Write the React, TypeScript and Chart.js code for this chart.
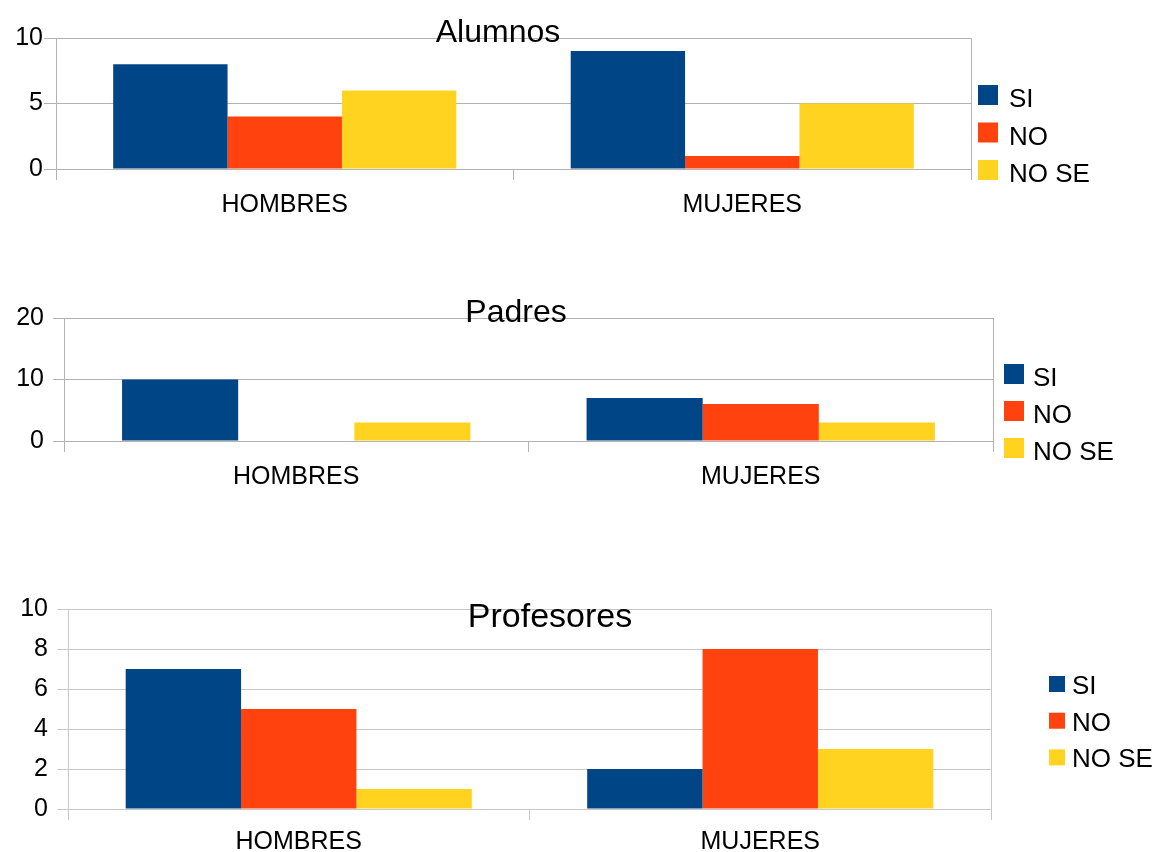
import React, { useEffect, useRef } from "react";
import { Chart, registerables } from "chart.js";

Chart.register(...registerables);

// ---------- data ----------
const categories = ["HOMBRES", "MUJERES"];
const seriesNames = ["SI", "NO", "NO SE"];
const seriesColors = ["#004586", "#ff420e", "#ffd320"];

const alumnosSI = [8, 9];
const alumnosNO = [4, 1];
const alumnosNOSE = [6, 5];

const padresSI = [10, 7];
const padresNO = [0, 6];
const padresNOSE = [3, 3];

const profesoresSI = [7, 2];
const profesoresNO = [5, 8];
const profesoresNOSE = [1, 3];

const alumnosTicks = [0, 5, 10];
const padresTicks = [0, 10, 20];
const profesoresTicks = [0, 2, 4, 6, 8, 10];

const titles = ["Alumnos", "Padres", "Profesores"];

// ---------- layout (positions / styles) ----------
const W = 1157;
const FONT = '"Liberation Sans", Arial, sans-serif';

type Panel = {
  title: string;
  series: number[][];
  ticks: number[];
  top: number;
  height: number;
  plotTop: number;
  plotBottom: number;
  plotLeft: number;
  plotRight: number;
  yTickLength: number;
  yPadding: number;
  xPadding: number;
  titleX: number;
  titleY: number;
  titleSize: number;
  legendX: number;
  legendTop: number;
  legendStep: number;
  legendBox: number;
  legendTextX: number;
  legendBaseline: number;
  gridColor: string;
};

const panels: Panel[] = [
  {
    title: titles[0],
    series: [alumnosSI, alumnosNO, alumnosNOSE],
    ticks: alumnosTicks,
    top: 0,
    height: 250,
    plotTop: 38,
    plotBottom: 169,
    plotLeft: 56,
    plotRight: 971,
    yTickLength: 12,
    yPadding: 1,
    xPadding: 10,
    titleX: 498,
    titleY: 42,
    titleSize: 32,
    legendX: 978,
    legendTop: 85,
    legendStep: 37.5,
    legendBox: 20,
    legendTextX: 1009,
    legendBaseline: 22,
    gridColor: "#b3b3b3",
  },
  {
    title: titles[1],
    series: [padresSI, padresNO, padresNOSE],
    ticks: padresTicks,
    top: 280,
    height: 220,
    plotTop: 318,
    plotBottom: 441,
    plotLeft: 64,
    plotRight: 993,
    yTickLength: 11,
    yPadding: 9,
    xPadding: 10,
    titleX: 516,
    titleY: 322,
    titleSize: 32,
    legendX: 1004,
    legendTop: 364,
    legendStep: 37,
    legendBox: 20,
    legendTextX: 1033,
    legendBaseline: 22,
    gridColor: "#b3b3b3",
  },
  {
    title: titles[2],
    series: [profesoresSI, profesoresNO, profesoresNOSE],
    ticks: profesoresTicks,
    top: 580,
    height: 272,
    plotTop: 609,
    plotBottom: 809,
    plotLeft: 68,
    plotRight: 991,
    yTickLength: 11,
    yPadding: 9,
    xPadding: 7,
    titleX: 550,
    titleY: 627,
    titleSize: 34,
    legendX: 1049,
    legendTop: 676,
    legendStep: 36.7,
    legendBox: 16,
    legendTextX: 1072,
    legendBaseline: 18,
    gridColor: "#c8c8c8",
  },
];

const overlayPlugin = {
  id: "overlay",
  afterDraw(chart: any, _args: any, opts: any) {
    const p: Panel = opts.panel;
    const ctx = chart.ctx as CanvasRenderingContext2D;
    ctx.save();
    ctx.fillStyle = "#000";
    ctx.font = `${p.titleSize}px ${FONT}`;
    ctx.textAlign = "center";
    ctx.textBaseline = "alphabetic";
    ctx.fillText(p.title, p.titleX, p.titleY - p.top);

    ctx.font = `26px ${FONT}`;
    ctx.textAlign = "left";
    chart.data.datasets.forEach((ds: any, i: number) => {
      const y = p.legendTop + i * p.legendStep - p.top;
      ctx.fillStyle = ds.backgroundColor;
      ctx.fillRect(p.legendX, y, p.legendBox, p.legendBox);
      ctx.fillStyle = "#000";
      ctx.fillText(ds.label, p.legendTextX, y + p.legendBaseline);
    });
    ctx.restore();
  },
};

function PanelChart({ p }: { p: Panel }) {
  const ref = useRef<HTMLCanvasElement>(null);
  useEffect(() => {
    if (!ref.current) return;
    const step = p.ticks[1] - p.ticks[0];
    const chart = new Chart(ref.current, {
      type: "bar",
      data: {
        labels: categories,
        datasets: p.series.map((vals, i) => ({
          label: seriesNames[i],
          data: vals,
          backgroundColor: seriesColors[i],
          borderWidth: 0,
          categoryPercentage: 0.75,
          barPercentage: 1.0,
        })),
      },
      options: {
        animation: false,
        responsive: false,
        devicePixelRatio: 1,
        layout: {
          padding: {
            top: p.plotTop - p.top,
            left: 0,
            right: W - p.plotRight,
            bottom: 0,
          },
        },
        plugins: {
          legend: { display: false },
          title: { display: false },
          tooltip: { enabled: false },
          overlay: { panel: p },
        } as any,
        scales: {
          x: {
            type: "category",
            offset: true,
            grid: {
              offset: true,
              drawOnChartArea: true,
              drawTicks: true,
              tickLength: 11,
              color: (c: any) => (c.index === 1 ? "rgba(0,0,0,0)" : p.gridColor),
              tickColor: p.gridColor,
              lineWidth: 1,
            },
            border: { display: false },
            ticks: {
              color: "#000",
              font: { family: FONT, size: 25 },
              padding: p.xPadding,
              maxRotation: 0,
            },
            afterFit: (scale: any) => {
              scale.height = p.top + p.height - p.plotBottom;
            },
          },
          y: {
            min: p.ticks[0],
            max: p.ticks[p.ticks.length - 1],
            grid: {
              color: p.gridColor,
              drawTicks: true,
              tickLength: p.yTickLength,
              lineWidth: 1,
            },
            border: { display: true, color: p.gridColor },
            ticks: {
              stepSize: step,
              color: "#000",
              font: { family: FONT, size: 25 },
              padding: p.yPadding,
            },
            afterFit: (scale: any) => {
              scale.width = p.plotLeft;
            },
          },
        },
      },
      plugins: [overlayPlugin],
    });
    return () => chart.destroy();
  }, [p]);
  return (
    <canvas
      ref={ref}
      width={W}
      height={p.height}
      style={{
        position: "absolute",
        left: 0,
        top: p.top,
        width: W,
        height: p.height,
        display: "block",
      }}
    />
  );
}

export default function App() {
  return (
    <div>
      {panels.map((p, i) => (
        <PanelChart key={i} p={p} />
      ))}
    </div>
  );
}
